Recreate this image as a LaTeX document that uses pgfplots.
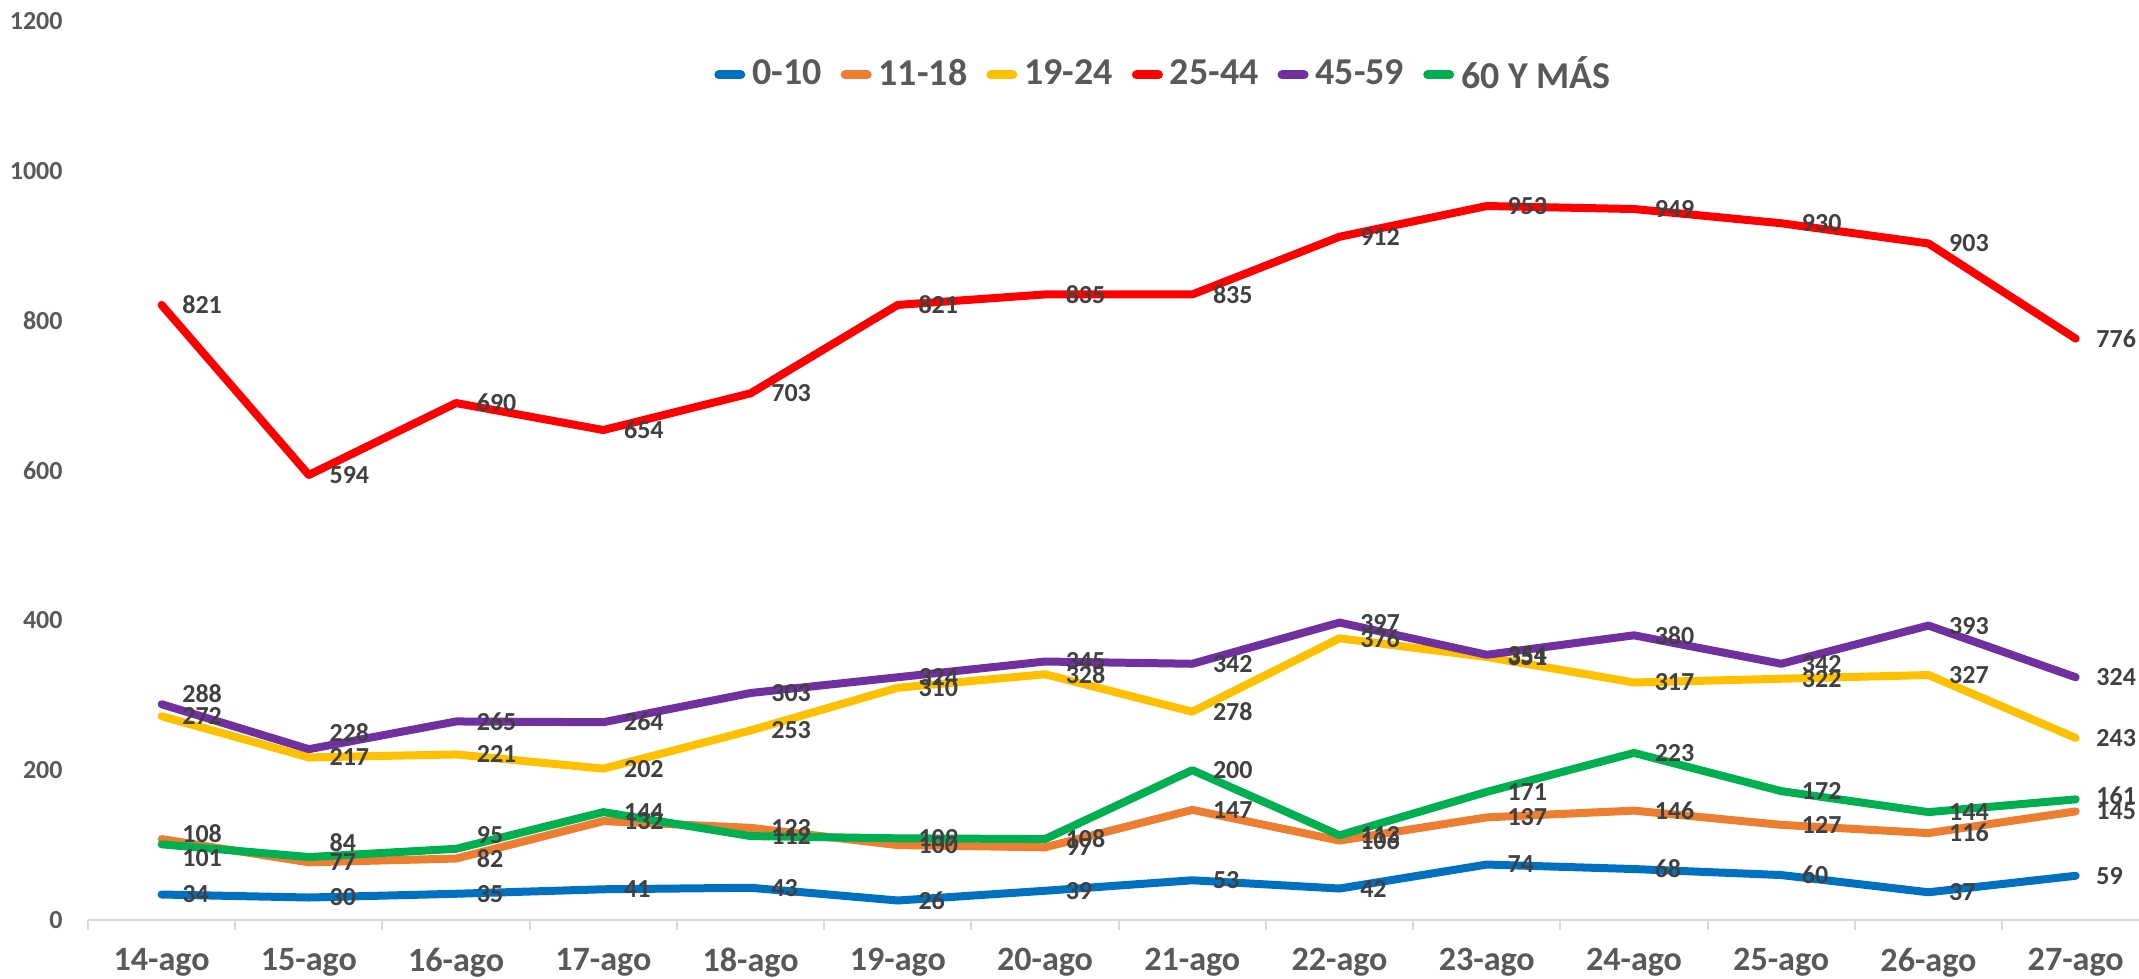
\documentclass[border=0pt]{standalone}
\usepackage{pgfplots}
\pgfplotsset{compat=1.18}
\usepackage{pgfplotstable}
\usepackage{fontspec}
\setmainfont{Carlito}
\definecolor{cA}{HTML}{0070C0}
\definecolor{cB}{HTML}{ED7D31}
\definecolor{cC}{HTML}{FFC000}
\definecolor{cD}{HTML}{FF0000}
\definecolor{cE}{HTML}{7030A0}
\definecolor{cF}{HTML}{00B050}
\definecolor{txt}{HTML}{595959}
\definecolor{lbl}{HTML}{404040}
\definecolor{axl}{HTML}{D9D9D9}
\pgfplotstableread{
x a b c d e f sb se sf
0 34 108 272 821 288 101 0.5 1.1 -1.4
1 30 77 217 594 228 84 0 1.7 1.4
2 35 82 221 690 265 95 0 0 1.4
3 41 132 202 654 264 144 0 0 0
4 43 123 253 703 303 112 0 0 0
5 26 100 310 821 324 109 0 0 0
6 39 97 328 835 345 108 0 0 0
7 53 147 278 835 342 200 0 0 0
8 42 106 376 912 397 113 0 0 0
9 74 137 351 953 354 171 0 0 0
10 68 146 317 949 380 223 0 0 0
11 60 127 322 930 342 172 0 0 0
12 37 116 327 903 393 144 0 0 0
13 59 145 243 776 324 161 0 0 0.4
}\data
\begin{document}
\begin{tikzpicture}
\begin{axis}[
  name=ax,
  scale only axis,
  width=205.1mm, height=89.9mm,
  xmin=-0.5, xmax=13.43,
  ymin=0, ymax=1200,
  ytick={0,200,...,1200},
  xtick={0,...,13},
  xticklabels={14-ago,15-ago,16-ago,17-ago,18-ago,19-ago,20-ago,21-ago,22-ago,23-ago,24-ago,25-ago,26-ago,27-ago},
  /pgf/number format/.cd, 1000 sep={}, assume math mode=true, /pgfplots/.cd,
  axis x line*=bottom, axis y line*=left,
  y axis line style={draw=none},
  x axis line style={draw=axl, line width=0.2mm},
  ytick style={draw=none},
  xtick style={draw=axl, line width=0.2mm},
  major tick length=0pt,
  extra x ticks={-0.5,0.5,...,12.5},
  extra x tick labels={},
  extra x tick style={major tick length=1mm, tick align=outside},
  yticklabel style={font=\bfseries\fontsize{7.4pt}{8pt}\selectfont, text=txt, xshift=-1.3mm},
  xticklabel style={font=\bfseries\fontsize{9.7pt}{11pt}\selectfont, text=txt, yshift=-1.6mm},
  clip=false,
  legend columns=6,
  legend style={draw=none, fill=none, at={(0.5256,0.94)}, anchor=center,
    font=\bfseries\fontsize{10.8pt}{12pt}\selectfont, text=txt,
    /tikz/every even column/.append style={column sep=1.2mm}},
  legend image code/.code={\draw[#1, line width=0.9mm, line cap=round] (0mm,0mm) -- (2.2mm,0mm);},
  every axis plot/.append style={line width=0.8mm, line join=round, line cap=round, mark=none},
  nodes near coords,
  nodes near coords style={anchor=west, xshift=1.5mm, inner sep=0.5pt, text=lbl, font=\bfseries\fontsize{7.4pt}{8pt}\selectfont},
]
\addplot[cA] table[x=x,y=a]{\data};
\addplot[cB, visualization depends on={\thisrow{sb}\as\ysh}, nodes near coords style={yshift=\ysh mm}] table[x=x,y=b]{\data};
\addplot[cC] table[x=x,y=c]{\data};
\addplot[cD] table[x=x,y=d]{\data};
\addplot[cE, visualization depends on={\thisrow{se}\as\ysh}, nodes near coords style={yshift=\ysh mm}] table[x=x,y=e]{\data};
\addplot[cF, visualization depends on={\thisrow{sf}\as\ysh}, nodes near coords style={yshift=\ysh mm}] table[x=x,y=f]{\data};
\legend{0-10,11-18,19-24,25-44,45-59,60 Y MÁS}
\end{axis}
\pgfresetboundingbox
\path[use as bounding box] ([shift={(-8.8mm,-5.9mm)}]ax.south west) rectangle ([shift={(0mm,2.1mm)}]ax.north east);
\end{tikzpicture}
\end{document}
